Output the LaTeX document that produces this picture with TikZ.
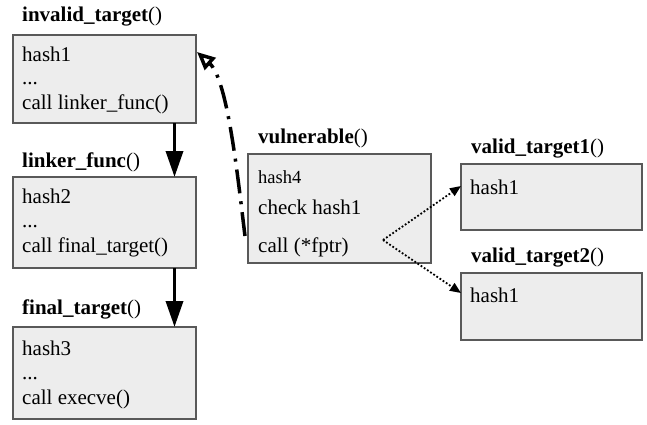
\documentclass[tikz,border=0pt]{standalone}
\usepackage{fontspec}
\setmainfont{Liberation Serif}
\usetikzlibrary{arrows.meta}
\tikzset{
  fbox/.style={draw=black!65, line width=1.3pt, fill=black!7, inner sep=0pt},
  ftitle/.style={anchor=base west, inner sep=0pt, font=\fontsize{21}{24}\selectfont},
  fline/.style={anchor=base west, inner sep=0pt, font=\fontsize{21}{24}\selectfont},
  calls/.style={line width=3.5pt, -{Triangle[length=26pt,width=17pt]}},
  hijack/.style={line width=3.5pt, dash pattern=on 24pt off 8pt on 3pt off 8pt, -{Triangle[open,length=18pt,width=16pt,line width=3.5pt]}},
  indir/.style={line width=1.8pt, dotted, -{Triangle[length=11pt,width=9pt]}}
}
\begin{document}
\begin{tikzpicture}[x=1pt,y=-1pt]
\useasboundingbox (0,0) rectangle (647,425);
% boxes
\draw[fbox] (13,35) rectangle (196,123);
\draw[fbox] (13,177) rectangle (196,268);
\draw[fbox] (13,327) rectangle (196,419);
\draw[fbox] (248,154) rectangle (431,263);
\draw[fbox] (461,164) rectangle (642,230);
\draw[fbox] (461,273) rectangle (642,340);
% titles
\node[ftitle] (t1) at (22,22) {\textbf{invalid\_target}()};
\node[ftitle] (t2) at (22,167) {\textbf{linker\_func}()};
\node[ftitle] (t3) at (22,314) {\textbf{final\_target}()};
\node[ftitle] (t4) at (258,143) {\textbf{vulnerable}()};
\node[ftitle] (t5) at (471,153) {\textbf{valid\_target1}()};
\node[ftitle] (t6) at (471,262) {\textbf{valid\_target2}()};
% box contents
\node[fline] (a1) at (22,62) {hash1};
\node[fline] (a2) at (22,85) {...};
\node[fline] (a3) at (22,110) {call linker\_func()};
\node[fline] (b1) at (22,203) {hash2};
\node[fline] (b2) at (22,227) {...};
\node[fline] (b3) at (22,252) {call final\_target()};
\node[fline] (c1) at (22,355) {hash3};
\node[fline] (c2) at (22,379) {...};
\node[fline] (c3) at (22,404) {call execve()};
\node[fline, font=\fontsize{18.5}{22}\selectfont] (d1) at (258,183) {hash4};
\node[fline] (d2) at (258,214) {check hash1};
\node[fline] (d3) at (258,252) {call (*fptr)};
\node[fline] (e1) at (470,194) {hash1};
\node[fline] (f1) at (470,302) {hash1};
% anchor coordinates
\coordinate (s1) at (174.5,123);
\coordinate (e1t) at (174.5,177);
\coordinate (s2) at (174.5,268);
\coordinate (e2t) at (174.5,327);
\coordinate (hs) at (245,236);
\coordinate (he) at (197,52);
\coordinate (ps) at (383,240);
\coordinate (v1) at (461,186);
\coordinate (v2) at (461,293);
% connectors
\draw[calls] (s1) -- (e1t);
\draw[calls] (s2) -- (e2t);
\draw[hijack] (hs) .. controls (238,180) and (228,80) .. (he);
\draw[indir] (ps) -- (v1);
\draw[indir] (ps) -- (v2);
\end{tikzpicture}
\end{document}
